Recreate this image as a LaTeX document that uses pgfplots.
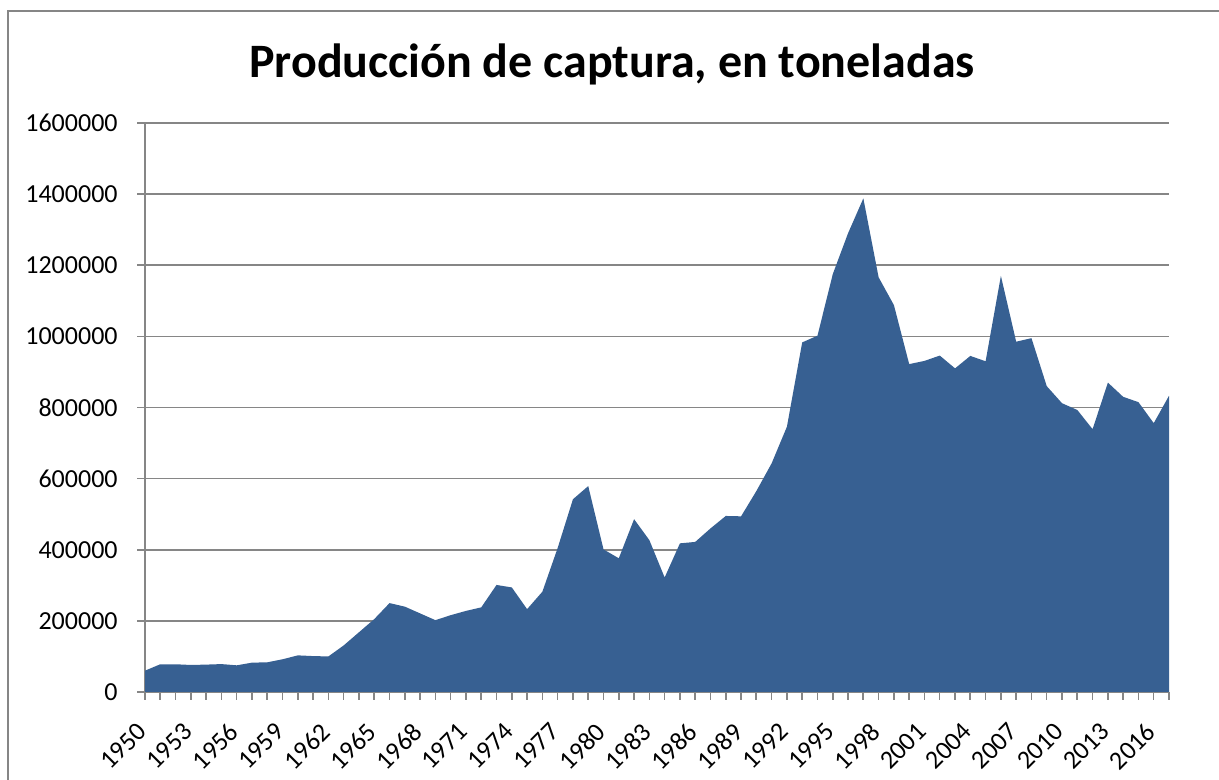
\documentclass[border=0pt]{standalone}
\usepackage{fontspec}
\setmainfont{Carlito}
\usepackage{pgfplots}
\pgfplotsset{compat=1.18}
\definecolor{areablue}{RGB}{55,96,146}
\definecolor{gridgray}{RGB}{134,134,134}
\begin{document}
\begin{tikzpicture}
\begin{axis}[
  at={(72.5pt,44pt)}, anchor=south west,
  scale only axis, width=512pt, height=284.5pt,
  xmin=1950, xmax=2017, ymin=0, ymax=1600000,
  axis lines*=left,
  axis line style={gridgray, line width=0.8pt},
  ymajorgrids, grid style={gridgray, line width=0.8pt},
  tick align=outside, tick style={gridgray, line width=0.8pt},
  major tick length=4pt,
  xtick={1950,...,2017},
  xticklabels={1950,,,1953,,,1956,,,1959,,,1962,,,1965,,,1968,,,1971,,,1974,,,1977,,,1980,,,1983,,,1986,,,1989,,,1992,,,1995,,,1998,,,2001,,,2004,,,2007,,,2010,,,2013,,,2016,},
  ytick={0,200000,...,1600000},
  scaled y ticks=false,
  /pgf/number format/.cd, fixed, precision=0, 1000 sep={}, assume math mode=true,
  /pgfplots/.cd,
  ticklabel style={font=\fontsize{13}{15}\selectfont, inner sep=0pt},
  xticklabel style={xshift=-4.5pt, yshift=-10.5pt, rotate=45, anchor=north east},
  yticklabel style={anchor=east, xshift=-9.5pt},
  clip=false,
]
\addplot[fill=areablue, draw=none] coordinates {
(1950,60000) (1951,78000) (1952,78000) (1953,76000) (1954,77000)
(1955,78500) (1956,75000) (1957,82500) (1958,83500) (1959,92000)
(1960,103000) (1961,101000) (1962,100000) (1963,131000) (1964,168000)
(1965,205000) (1966,250000) (1967,240000) (1968,221000) (1969,202000)
(1970,216000) (1971,228000) (1972,238000) (1973,301000) (1974,294000)
(1975,233000) (1976,282000) (1977,405000) (1978,542000) (1979,579000)
(1980,401000) (1981,376000) (1982,486000) (1983,427000) (1984,322000)
(1985,418000) (1986,422000) (1987,460000) (1988,495000) (1989,494000)
(1990,565000) (1991,643000) (1992,746000) (1993,983000) (1994,1002000)
(1995,1175000) (1996,1290000) (1997,1388000) (1998,1166000) (1999,1088000)
(2000,922000) (2001,931000) (2002,946000) (2003,910000) (2004,945000)
(2005,930000) (2006,1170000) (2007,985000) (2008,995000) (2009,860000)
(2010,812000) (2011,793000) (2012,739000) (2013,870000) (2014,830000)
(2015,815000) (2016,756000) (2017,833000)
} \closedcycle;
\end{axis}
\draw[gridgray, line width=0.8pt] (4pt,0pt) -- (4pt,384.5pt) -- (620pt,384.5pt);
\node[anchor=base, font=\bfseries\fontsize{24}{29}\selectfont] at (306pt,351pt) {Producción de captura, en toneladas};
\pgfresetboundingbox
\path[use as bounding box] (0,0) rectangle (609.5pt,390pt);
\end{tikzpicture}
\end{document}
